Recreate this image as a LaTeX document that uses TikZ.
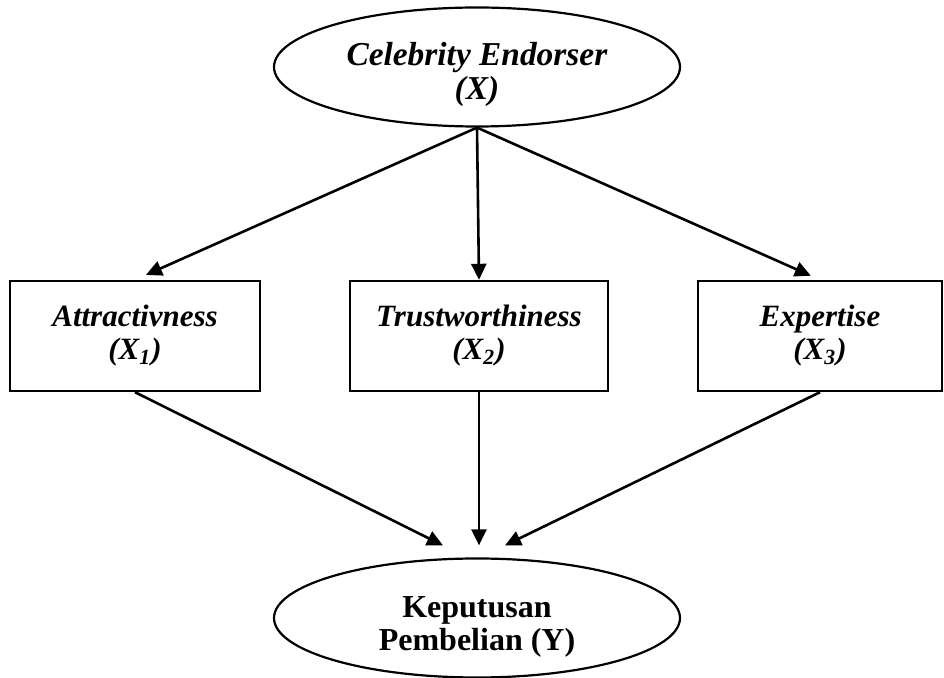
\documentclass[tikz,border=0pt]{standalone}
\usepackage{fontspec}
\setmainfont{Liberation Serif}
\usetikzlibrary{shapes.geometric, arrows.meta, positioning, calc}
\newcommand{\ellpad}{\rule{0pt}{19.5pt}}
\tikzset{
  % Node styles
  varellipse/.style={ellipse, draw, line width=1.1pt, minimum width=203pt, minimum height=59.5pt, inner sep=0pt, align=center, font=\fontsize{16}{16.5}\selectfont\bfseries},
  varbox/.style={rectangle, draw, line width=1.2pt, minimum height=55pt, inner sep=0pt, align=center, font=\fontsize{15.5}{16.5}\selectfont\bfseries\itshape},
  % Arrow styles
  arrow/.style={-{Triangle[length=8pt,width=7.5pt]}, line width=1.3pt}
}

\begin{document}
\begin{tikzpicture}[x=0.5pt, y=-0.5pt]
  \useasboundingbox (0,0) rectangle (944,678);

  % Independent variable
  \node[varellipse, font=\fontsize{16.7}{17}\selectfont\bfseries] (cel) at (477,67) {\ellpad\textit{Celebrity Endorser}\\\textit{(X)}};

  % Dimensions
  \node[varbox, minimum width=125pt] (attr) at (135,336) {Attractivness\\(X\textsubscript{1})};
  \node[varbox, minimum width=129pt] (trust) at (479,336) {Trustworthiness\\(X\textsubscript{2})};
  \node[varbox, minimum width=122pt] (expert) at (820,336) {Expertise\\(X\textsubscript{3})};

  % Dependent variable
  \node[varellipse] (kep) at (477,618) {\ellpad Keputusan\\Pembelian (Y)};

  % Arrows
  \draw[arrow, shorten >=6pt] (cel.south) -- (attr.north);
  \draw[arrow] (cel.south) -- (trust.north);
  \draw[arrow, shorten >=5pt] (cel.south) -- (expert.north);

  \coordinate (inL) at ($(kep.north)+(-34,-12)$);
  \coordinate (inR) at ($(kep.north)+(28,-12)$);
  \draw[arrow] (attr.south) -- (inL);
  \draw[arrow, shorten >=6pt] (trust.south) -- (trust.south |- kep.north);
  \draw[arrow] (expert.south) -- (inR);
\end{tikzpicture}
\end{document}
